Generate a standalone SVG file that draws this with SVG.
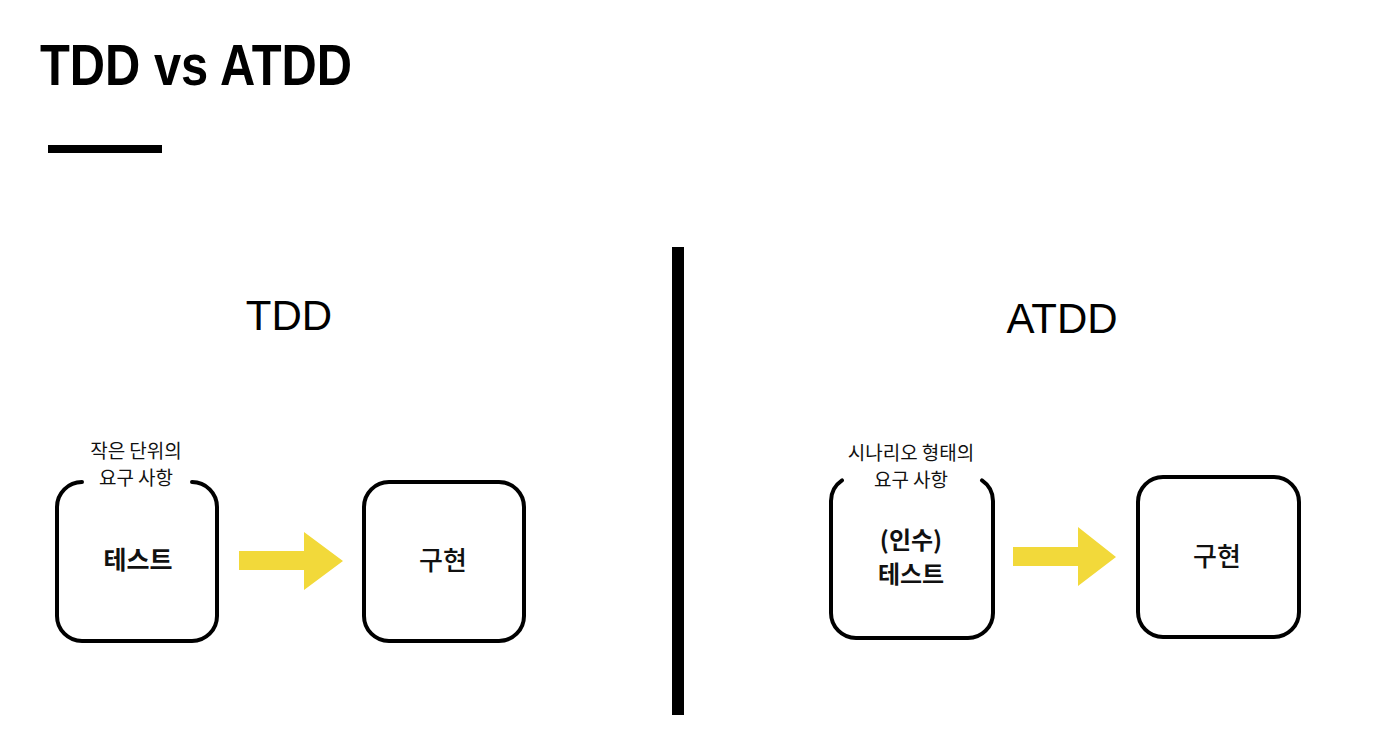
<svg xmlns="http://www.w3.org/2000/svg" width="1395" height="739" viewBox="0 0 1395 739">
<style>
  .box { fill: none; stroke: #000; stroke-width: 4; stroke-linecap: round; }
  .arrow { fill: #F2D93A; }
  .kr { font-family: "Noto Sans CJK KR", "Noto Sans", sans-serif; fill: #111; text-anchor: middle; }
  .small { font-size: 19px; }
  .mid { font-size: 25px; font-weight: 700; }
  .mid2 { font-size: 24px; font-weight: 700; }
  .impl { font-size: 26px; font-weight: 500; }
  .head { font-family: "Liberation Sans", Arial, sans-serif; font-size: 42px; fill: #000; text-anchor: middle; }
</style>
<rect width="1395" height="739" fill="#fff"/>
<g id="title">
  <text x="40" y="85" font-family="Liberation Sans, Arial, sans-serif" font-size="58" font-weight="700" textLength="312" lengthAdjust="spacingAndGlyphs">TDD vs ATDD</text>
  <rect x="48" y="145" width="114" height="8" fill="#000"/>
</g>
<g id="divider">
  <rect x="672" y="247" width="12" height="468" fill="#000"/>
</g>
<g id="tdd-heading"><text class="head" x="289" y="330">TDD</text></g>
<g id="atdd-heading"><text class="head" x="1062" y="333">ATDD</text></g>

<g id="tdd-test">
  <path class="box" d="M 82 482 A 25 25 0 0 0 57 507 V 616 A 25 25 0 0 0 82 641 H 192 A 25 25 0 0 0 217 616 V 507 A 25 25 0 0 0 192 482"/>
  <text class="kr small" x="136" y="458">작은 단위의<tspan x="136" dy="27">요구 사항</tspan></text>
  <text class="kr mid" x="138" y="569">테스트</text>
</g>
<g id="tdd-impl">
  <rect class="box" x="364" y="482" width="160" height="159" rx="25" ry="25"/>
  <text class="kr impl" x="443" y="570">구현</text>
</g>

<g id="atdd-test">
  <path class="box" d="M 842 480.3 A 25 25 0 0 0 831 501 V 613 A 25 25 0 0 0 856 638 H 968 A 25 25 0 0 0 993 613 V 501 A 25 25 0 0 0 982 480.3"/>
  <text class="kr small" x="911" y="460">시나리오 형태의<tspan x="911" dy="27">요구 사항</tspan></text>
  <text class="kr mid2" x="911" y="549">(인수)</text>
  <text class="kr mid2" x="911" y="583">테스트</text>
</g>
<g id="atdd-impl">
  <rect class="box" x="1138" y="477" width="161" height="160" rx="25" ry="25"/>
  <text class="kr impl" x="1217" y="566">구현</text>
</g>

<g id="connectors">
  <polygon class="arrow" points="239,551 304,551 304,532 343,561 304,590 304,570 239,570"/>
  <polygon class="arrow" points="1013,547 1078,547 1078,527 1116,557 1078,586 1078,566 1013,566"/>
</g>
</svg>
